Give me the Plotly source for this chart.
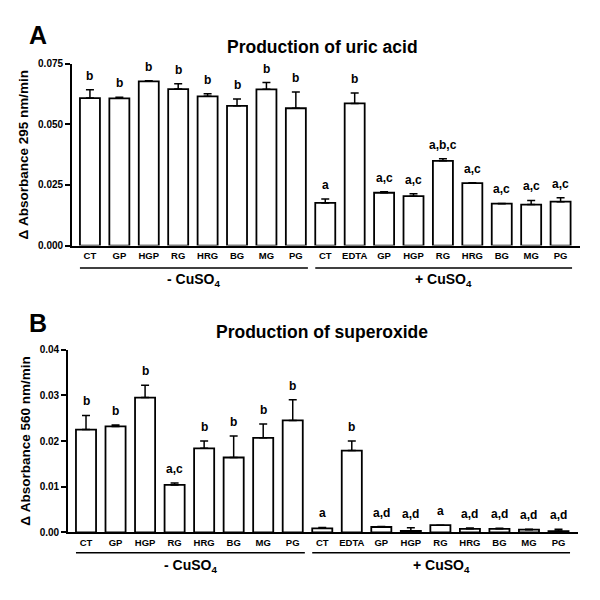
import plotly.graph_objects as go

categories = ["CT", "GP", "HGP", "RG", "HRG", "BG", "MG", "PG",
              "CT", "EDTA", "GP", "HGP", "RG", "HRG", "BG", "MG", "PG"]
group_labels = ["- CuSO<sub>4</sub>", "+ CuSO<sub>4</sub>"]

uric_mean = [0.0609, 0.0608, 0.0678, 0.0646, 0.0616, 0.0577, 0.0645, 0.0567,
             0.0176, 0.0587, 0.0218, 0.0204, 0.0350, 0.0258, 0.0173, 0.0169, 0.0181]
uric_err = [0.0034, 0.0004, 0.0003, 0.0022, 0.0011, 0.0028, 0.0028, 0.0067,
            0.0016, 0.0043, 0.0004, 0.0010, 0.0008, 0.0001, 0.0001, 0.0017, 0.0016]
uric_sig = ["b", "b", "b", "b", "b", "b", "b", "b",
            "a", "b", "a,c", "a,c", "a,b,c", "a,c", "a,c", "a,c", "a,c"]

sup_mean = [0.0225, 0.0232, 0.0295, 0.0104, 0.0184, 0.0164, 0.0207, 0.0245,
            0.0009, 0.0179, 0.0012, 0.00035, 0.0016, 0.0008, 0.0008, 0.0006, 0.0003]
sup_err = [0.0031, 0.0003, 0.0027, 0.0004, 0.0016, 0.0047, 0.0030, 0.0045,
           0.0002, 0.0021, 0.0001, 0.0007, 0.0, 0.0002, 0.0001, 0.0001, 0.0004]
sup_sig = ["b", "b", "b", "a,c", "b", "b", "b", "b",
           "a", "b", "a,d", "a,d", "a", "a,d", "a,d", "a,d", "a,d"]

FONT = "Arial, Liberation Sans, sans-serif"
xs = list(range(len(categories)))

fig = go.Figure()

panels = [
    dict(mean=uric_mean, err=uric_err, sig=uric_sig, xa="x", ya="y",
         xdom=[72/600, 580/600], ydom=[1-244/600, 1-59/600], yr=[0, 0.075],
         dt=0.025, fmt=".3f", title="Production of uric acid",
         ytitle="Δ Absorbance 295 nm/min", letter="A",
         title_y=1-42/600, letter_y=1-30/600, line_y=267, grp_y=279),
    dict(mean=sup_mean, err=sup_err, sig=sup_sig, xa="x2", ya="y2",
         xdom=[68/600, 578/600], ydom=[1-536.3/600, 1-350/600], yr=[0, 0.04],
         dt=0.01, fmt=".2f", title="Production of superoxide",
         ytitle="Δ Absorbance 560 nm/min", letter="B",
         title_y=1-332/600, letter_y=1-323/600, line_y=557, grp_y=570),
]

layout_axes = {}
annotations = []
shapes = []
for i, p in enumerate(panels):
    fig.add_trace(go.Bar(
        x=xs, y=p["mean"], xaxis=p["xa"], yaxis=p["ya"], width=0.68,
        marker=dict(color="white", line=dict(color="black", width=1.8)),
        error_y=dict(type="data", symmetric=False, array=p["err"],
                     arrayminus=[0]*len(p["err"]), color="black",
                     thickness=1.5, width=4),
        showlegend=False, hoverinfo="skip"))
    sfx = "" if i == 0 else "2"
    layout_axes["xaxis" + sfx] = dict(
        domain=p["xdom"], range=[-0.61, 16.66], anchor=p["ya"],
        tickmode="array", tickvals=xs, ticktext=categories, ticks="",
        showline=True, linecolor="black", linewidth=1.8, showgrid=False,
        zeroline=False,
        tickfont=dict(family=FONT, size=9.5, color="black", weight="bold"),
        ticklabelstandoff=0)
    layout_axes["yaxis" + sfx] = dict(
        domain=p["ydom"], range=p["yr"], anchor=p["xa"], dtick=p["dt"],
        tickformat=p["fmt"], ticks="outside", ticklen=5, tickwidth=1.5,
        tickcolor="black", showline=True, linecolor="black", linewidth=1.8,
        showgrid=False, zeroline=False,
        tickfont=dict(family=FONT, size=10, color="black", weight="bold"),
        title=dict(text=p["ytitle"], standoff=6,
                   font=dict(family=FONT, size=13.5, color="black", weight="bold")))
    for xv, m, e, s in zip(xs, p["mean"], p["err"], p["sig"]):
        annotations.append(dict(
            x=xv, y=m + e, xref=p["xa"], yref=p["ya"], text="<b>%s</b>" % s,
            showarrow=False, yanchor="bottom", yshift=5,
            font=dict(family=FONT, size=12, color="black")))
    annotations.append(dict(
        x=322/600, y=p["title_y"], xref="paper", yref="paper",
        text="<b>%s</b>" % p["title"], showarrow=False,
        xanchor="center", yanchor="middle",
        font=dict(family=FONT, size=17.5, color="black")))
    annotations.append(dict(
        x=38/600, y=p["letter_y"], xref="paper", yref="paper",
        text="<b>%s</b>" % p["letter"], showarrow=False,
        xanchor="center", yanchor="middle",
        font=dict(family=FONT, size=25, color="black")))
    groups = [(-0.34, 7.41, group_labels[0]), (7.66, 16.39, group_labels[1])]
    for x0, x1, lab in groups:
        shapes.append(dict(type="line", xref=p["xa"], yref="paper",
                           x0=x0, x1=x1, y0=1-p["line_y"]/600, y1=1-p["line_y"]/600,
                           line=dict(color="black", width=1.5)))
        annotations.append(dict(
            x=(x0 + x1) / 2, y=1-p["grp_y"]/600, xref=p["xa"], yref="paper",
            text=lab, showarrow=False, xanchor="center", yanchor="middle",
            font=dict(family=FONT, size=14, color="black", weight="bold")))

fig.update_layout(
    width=600, height=600, margin=dict(l=0, r=0, t=0, b=0),
    paper_bgcolor="white", plot_bgcolor="white", bargap=0.3,
    annotations=annotations, shapes=shapes, **layout_axes)

fig.write_html("out.html", config={"displayModeBar": False},
               post_script="document.body.style.margin='0';document.body.style.overflow='hidden';")
